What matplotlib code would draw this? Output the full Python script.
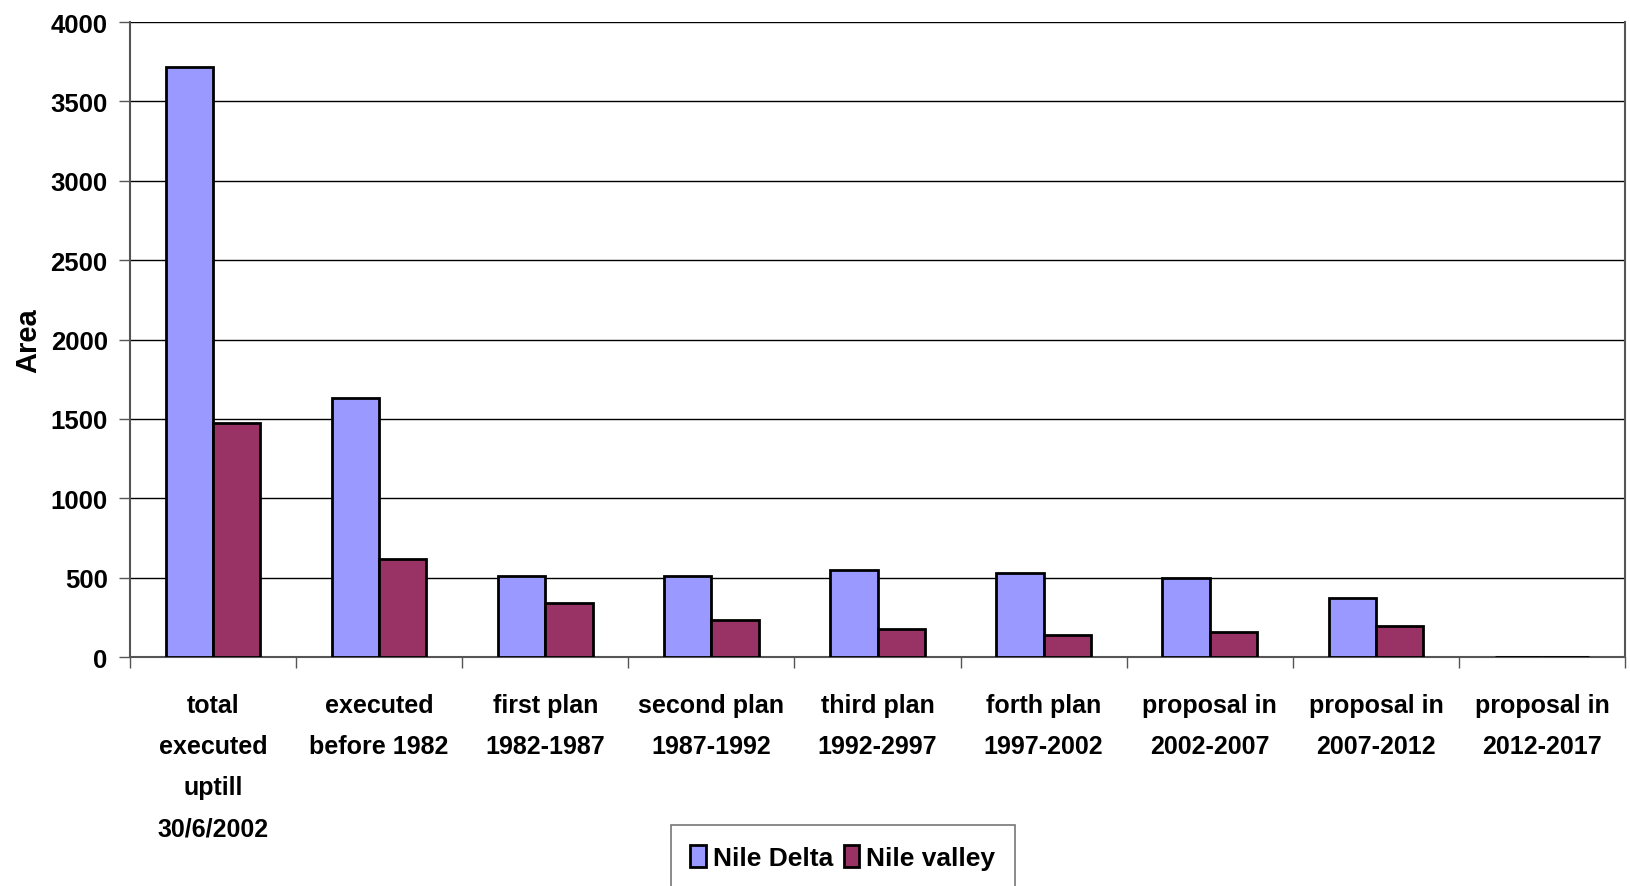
import numpy as np
import matplotlib.pyplot as plt
from matplotlib import font_manager

categories = ['total\nexecuted\nuptill\n30/6/2002', 'executed\nbefore 1982',
              'first plan\n1982-1987', 'second plan\n1987-1992', 'third plan\n1992-2997',
              'forth plan\n1997-2002', 'proposal in\n2002-2007', 'proposal in\n2007-2012',
              'proposal in\n2012-2017']
nile_delta = [3720, 1630, 512, 512, 548, 530, 497, 372, 0]
nile_valley = [1475, 618, 338, 231, 177, 141, 158, 196, 0]

names = {f.name for f in font_manager.fontManager.ttflist}
fam = ['Liberation Sans Narrow', 'Liberation Sans', 'DejaVu Sans']
fam = [f for f in fam if f in names] or ['DejaVu Sans']
plt.rcParams['font.family'] = fam
plt.rcParams['font.weight'] = 'bold'

fig = plt.figure(figsize=(16.3, 8.87), dpi=100)
ax = fig.add_axes([0.0797, 0.258, 0.9173, 0.716])

x = np.arange(len(categories))
w = 0.285
ax.bar(x - w/2, nile_delta, w, color='#9999ff', edgecolor='black', linewidth=2, label='Nile Delta', zorder=3)
ax.bar(x + w/2, nile_valley, w, color='#993366', edgecolor='black', linewidth=2, label='Nile valley', zorder=3)

ax.set_xlim(-0.5, len(categories) - 0.5)
ax.set_ylim(0, 4000)
ax.set_yticks(np.arange(0, 4001, 500))
ax.yaxis.grid(True, color='black', linewidth=1)
ax.set_axisbelow(True)

ax.set_xticks(x)
ax.set_xticklabels(categories, fontsize=18, fontweight='bold', linespacing=1.9)
ax.set_xticks(np.arange(-0.5, len(categories), 1), minor=True)
ax.tick_params(axis='x', which='major', length=0, pad=26)
ax.tick_params(axis='x', which='minor', length=8, width=1, color='#555555')
ax.tick_params(axis='y', labelsize=18.5, length=8, width=1, color='#555555', pad=8)
for lab in ax.get_yticklabels():
    lab.set_fontweight('bold')

for side in ['left', 'bottom', 'right']:
    ax.spines[side].set_color('#555555')
    ax.spines[side].set_linewidth(1.5)
ax.spines['top'].set_visible(False)

ax.set_ylabel('Area', fontsize=21, fontweight='bold', labelpad=6)

leg = fig.legend(loc='center', bbox_to_anchor=(0.517, 0.032), ncol=2,
                 frameon=True, fancybox=False, edgecolor='#555555', handlelength=0.6,
                 handleheight=0.9, handletextpad=0.25, columnspacing=0.4,
                 borderpad=0.75, borderaxespad=0.3, prop={'weight': 'bold', 'size': 19})
leg.get_frame().set_linewidth(1.2)

fig.savefig('out.png', dpi=100)
